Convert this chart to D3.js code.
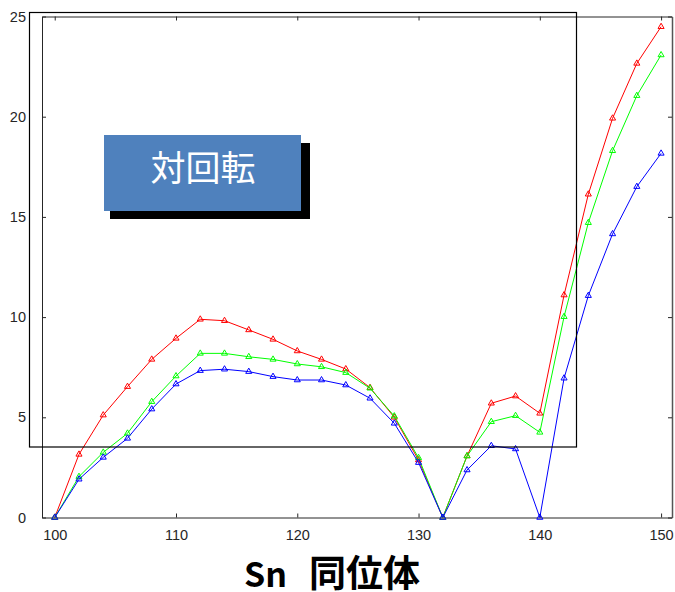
<!DOCTYPE html>
<html>
<head>
<meta charset="utf-8">
<script src="https://cdn.jsdelivr.net/npm/d3@7"></script>
<style>
  body { margin: 0; background: #fff; }
  svg { display: block; }
</style>
</head>
<body>
<div id="chart"></div>
<script>

// mass numbers of the Sn isotopes
var isotopes = [100, 102, 104, 106, 108, 110, 112, 114, 116, 118, 120, 122, 124,
  126, 128, 130, 132, 134, 136, 138, 140, 142, 144, 146, 148, 150];

var redValues = [0, 3.15, 5.11, 6.53, 7.89, 8.94, 9.89, 9.82, 9.36, 8.89, 8.31, 7.89, 7.41,
  6.48, 5.0, 2.87, 0, 3.07, 5.70, 6.06, 5.2, 11.1, 16.13, 19.92, 22.66, 24.49];
var greenValues = [0, 2.04, 3.25, 4.2, 5.78, 7.06, 8.19, 8.19, 8.02, 7.89, 7.66, 7.52, 7.23,
  6.45, 5.06, 2.98, 0, 3.07, 4.78, 5.08, 4.25, 10.02, 14.71, 18.3, 21.05, 23.08];
var blueValues = [0, 1.91, 3.0, 3.95, 5.41, 6.66, 7.33, 7.40, 7.28, 7.03, 6.86, 6.86, 6.61,
  5.95, 4.70, 2.74, 0, 2.37, 3.58, 3.42, 0, 6.95, 11.07, 14.15, 16.51, 18.17];

var xTicks = [100, 110, 120, 130, 140, 150];
var yTicks = [0, 5, 10, 15, 20, 25];

var width = 675;
var height = 592;
var margin = { top: 16.5, right: 3, bottom: 74.5, left: 42 };
var innerWidth = width - margin.left - margin.right;
var innerHeight = height - margin.top - margin.bottom;

var svg = d3.select("#chart").append("svg")
  .attr("width", width)
  .attr("height", height);

var g = svg.append("g")
  .attr("transform", "translate(" + margin.left + "," + margin.top + ")");

var xScale = d3.scaleLinear().domain([98.95, 150.9]).range([0, innerWidth]);
var yScale = d3.scaleLinear().domain([0, 25]).range([innerHeight, 0]);

// axes, ticks pointing inwards on all four sides
g.append("g")
  .attr("class", "x axis")
  .attr("transform", "translate(0," + innerHeight + ")")
  .call(d3.axisBottom(xScale).tickValues(xTicks).tickSizeInner(-4).tickSizeOuter(0).tickPadding(12));

g.append("g")
  .attr("class", "y axis")
  .call(d3.axisLeft(yScale).tickValues(yTicks).tickSizeInner(-4).tickSizeOuter(0).tickPadding(16));

g.append("g")
  .attr("class", "axis")
  .call(d3.axisTop(xScale).tickValues(xTicks).tickSizeInner(-4).tickSizeOuter(0).tickFormat(""));

g.append("g")
  .attr("class", "axis right")
  .attr("transform", "translate(" + innerWidth + ",0)")
  .call(d3.axisRight(yScale).tickValues(yTicks).tickSizeInner(-4).tickSizeOuter(0).tickFormat(""));

g.selectAll(".axis path").attr("stroke", "#262626");
g.selectAll(".axis line").attr("stroke", "#262626");
g.select(".right path").attr("stroke", "#555").attr("stroke-width", 1.5);

g.selectAll(".x.axis text, .y.axis text")
  .style("font-family", "'Liberation Sans', Arial, sans-serif")
  .style("font-size", "14.5px")
  .style("fill", "#262626");

var series = [
  { values: redValues, color: "#ff0000" },
  { values: greenValues, color: "#00ff00" },
  { values: blueValues, color: "#0000ff" }
];

var line = d3.line()
  .x(function(d) { return xScale(d[0]); })
  .y(function(d) { return yScale(d[1]); });

var triangle = d3.symbol().type(d3.symbolTriangle).size(16);

series.forEach(function(s) {
  var pts = isotopes.map(function(x, i) { return [x, s.values[i]]; });

  g.append("path")
    .datum(pts)
    .attr("fill", "none")
    .attr("stroke", s.color)
    .attr("stroke-width", 1)
    .attr("d", line);

  g.selectAll(null)
    .data(pts)
    .enter().append("path")
    .attr("transform", function(d) {
      return "translate(" + xScale(d[0]) + "," + yScale(d[1]) + ")";
    })
    .attr("d", triangle)
    .attr("fill", "none")
    .attr("stroke", s.color)
    .attr("stroke-width", 1);
});

// black frame laid over the plot
svg.append("rect")
  .attr("x", 29.5)
  .attr("y", 12.5)
  .attr("width", 547)
  .attr("height", 434.5)
  .attr("fill", "none")
  .attr("stroke", "#000")
  .attr("stroke-width", 1.2);

// label box with shadow
svg.append("rect")
  .attr("x", 110)
  .attr("y", 143)
  .attr("width", 200)
  .attr("height", 76)
  .attr("fill", "#000");

svg.append("rect")
  .attr("x", 104)
  .attr("y", 135)
  .attr("width", 197)
  .attr("height", 76)
  .attr("fill", "#4f81bd");

svg.append("text")
  .attr("x", 203)
  .attr("y", 181)
  .attr("text-anchor", "middle")
  .style("font-family", "'Noto Sans CJK JP', sans-serif")
  .style("font-size", "35px")
  .style("fill", "#fff")
  .text("対回転");

// x axis title
var title = svg.append("text")
  .attr("y", 587)
  .style("font-family", "'Noto Sans CJK JP', sans-serif")
  .style("font-weight", "bold")
  .style("fill", "#000");

title.append("tspan")
  .attr("x", 244)
  .style("font-size", "34px")
  .text("Sn");

title.append("tspan")
  .attr("x", 309)
  .style("font-size", "37px")
  .text("同位体");

</script>
</body>
</html>
